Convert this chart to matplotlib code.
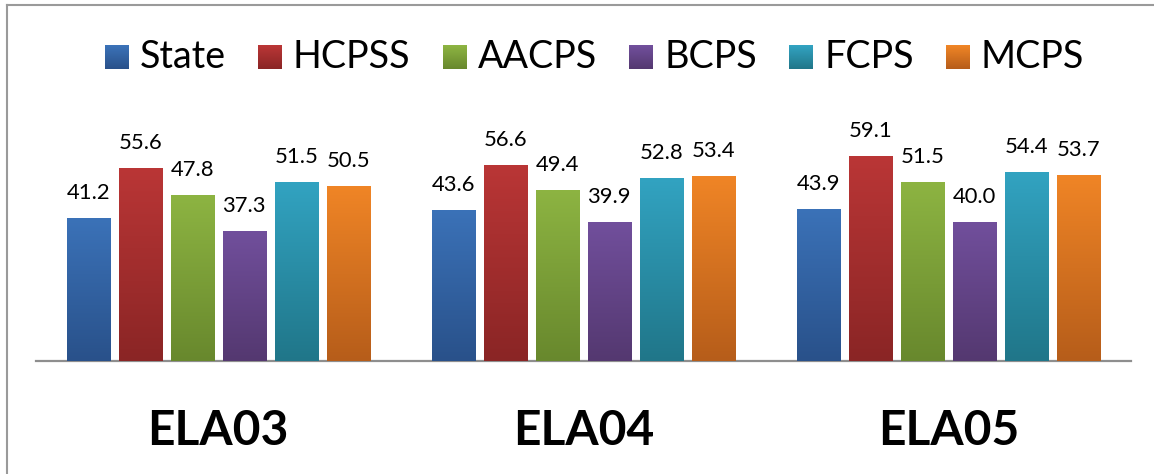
import numpy as np
import matplotlib
matplotlib.use("Agg")
import matplotlib.pyplot as plt
from matplotlib.colors import LinearSegmentedColormap, to_rgb
from matplotlib.legend_handler import HandlerBase
from matplotlib.patches import Rectangle
from matplotlib.lines import Line2D

# ---- data ----
categories = ["ELA03", "ELA04", "ELA05"]
series_names = ["State", "HCPSS", "AACPS", "BCPS", "FCPS", "MCPS"]
state = [41.2, 43.6, 43.9]
hcpss = [55.6, 56.6, 59.1]
aacps = [47.8, 49.4, 51.5]
bcps = [37.3, 39.9, 40.0]
fcps = [51.5, 52.8, 54.4]
mcps = [50.5, 53.4, 53.7]
series_values = [state, hcpss, aacps, bcps, fcps, mcps]

# light (top) / dark (bottom) gradient colours per series
top_colors = ["#3b72b8", "#ba3636", "#8db442", "#714f9c", "#32a3c1", "#f08526"]
bottom_colors = ["#29518a", "#8a2525", "#68882d", "#543870", "#207689", "#b65d1a"]

plt.rcParams["font.family"] = ["Lato", "DejaVu Sans"]

W, H = 1154, 474
fig = plt.figure(figsize=(W / 100, H / 100), dpi=100)
fig.patch.set_facecolor("white")

base_px = 360.7
top_px = 60.0
left_px, right_px = 35.8, 1130.8
ax = fig.add_axes([left_px / W, (H - base_px) / H,
                   (right_px - left_px) / W, (base_px - top_px) / H])
ymax = (base_px - top_px) / 3.465

n = len(series_names)
pitch = 52.0 / 365.0
bar_w = 43.3 / 365.0
x = np.arange(len(categories))


def gradient_cmap(top, bottom):
    return LinearSegmentedColormap.from_list("g", [to_rgb(bottom), to_rgb(top)])


grad = np.linspace(0, 1, 256).reshape(-1, 1)
for i, (name, vals) in enumerate(zip(series_names, series_values)):
    offs = (i - (n - 1) / 2) * pitch
    bars = ax.bar(x + offs, vals, width=bar_w, color=top_colors[i],
                  edgecolor="none", zorder=2)
    cmap = gradient_cmap(top_colors[i], bottom_colors[i])
    for rect, v in zip(bars, vals):
        x0 = rect.get_x()
        im = ax.imshow(grad, cmap=cmap, origin="lower", aspect="auto",
                       extent=(x0, x0 + rect.get_width(), 0, v),
                       interpolation="bilinear", zorder=3)
        im.set_clip_path(rect)
        ax.annotate(f"{v:.1f}", (rect.get_x() + rect.get_width() / 2, v),
                    xytext=(0, 13.7), textcoords="offset points",
                    ha="center", va="baseline", fontsize=15.8,
                    color="black", zorder=4)

ax.set_xlim(-0.5, 2.5)
ax.set_ylim(0, ymax)
ax.set_xticks(x)
ax.set_xticklabels(categories, fontsize=34.5, fontweight="bold")
ax.tick_params(axis="x", length=0, pad=35)
ax.set_yticks([])
for s in ["top", "left", "right"]:
    ax.spines[s].set_visible(False)
ax.spines["bottom"].set_color("#8e8e8e")
ax.spines["bottom"].set_linewidth(1.6)
ax.spines["bottom"].set_zorder(1)
ax.set_facecolor("none")


# ---- legend with gradient squares ----
class GradientKey:
    def __init__(self, top, bottom):
        self.top = top
        self.bottom = bottom


class GradientSquareHandler(HandlerBase):
    def create_artists(self, legend, orig_handle, xdescent, ydescent,
                       width, height, fontsize, trans):
        size = 17.3
        x0 = -xdescent + (width - size) / 2
        y0 = -ydescent + (height - size) / 2 - 1.6
        steps = 24
        t = to_rgb(orig_handle.top)
        b = to_rgb(orig_handle.bottom)
        artists = []
        for k in range(steps):
            f = k / (steps - 1)
            c = tuple(b[j] + (t[j] - b[j]) * f for j in range(3))
            r = Rectangle((x0, y0 + size * k / steps), size, size / steps * 1.05,
                          facecolor=c, edgecolor="none", transform=trans)
            artists.append(r)
        return artists


keys = [GradientKey(t, b) for t, b in zip(top_colors, bottom_colors)]
fig.legend(keys, series_names, handler_map={GradientKey: GradientSquareHandler()},
           loc="center", bbox_to_anchor=(594.5 / W, 1 - 57 / H), ncol=6,
           frameon=False, fontsize=27.2, handlelength=0.64, handleheight=0.64,
           handletextpad=0.28, columnspacing=0.86, borderpad=0, borderaxespad=0)

# ---- outer frame ----
fc = "#9a9a9a"
fig.add_artist(Line2D([6.7 / W, 1.0], [1 - 5.2 / H, 1 - 5.2 / H],
                      transform=fig.transFigure, color=fc, lw=1.5))
fig.add_artist(Line2D([6.7 / W, 6.7 / W], [0.0, 1 - 5.2 / H],
                      transform=fig.transFigure, color=fc, lw=1.5))

fig.savefig("out.png", dpi=100, facecolor="white")
